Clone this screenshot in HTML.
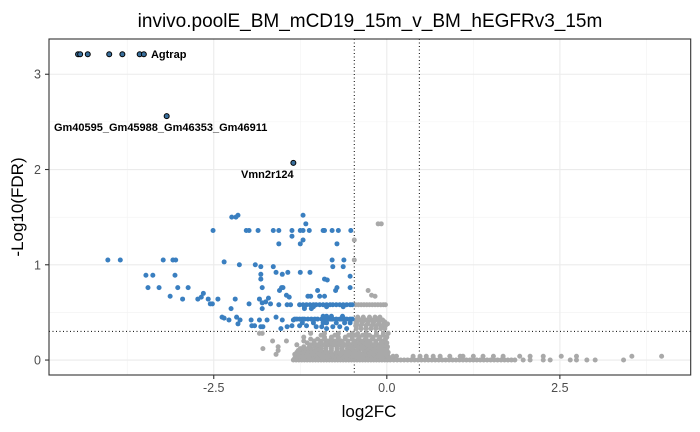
<!DOCTYPE html>
<html><head><meta charset="utf-8"><style>
html,body{margin:0;padding:0;background:#fff;}
svg{display:block;font-family:"Liberation Sans",Arial,sans-serif;}
</style></head><body>
<svg id="chart" width="700" height="432" viewBox="0 0 700 432">
<text x="370" y="27" font-size="19" text-anchor="middle" fill="#000">invivo.poolE_BM_mCD19_15m_v_BM_hEGFRv3_15m</text>
<g id="grid"></g>
<g id="lines"></g>
<g id="pts"></g>
<g id="labels"></g>
<rect x="49" y="39" width="641.7" height="336" fill="none" stroke="#333" stroke-width="1.1"/>
<g id="axes"></g>
<text x="369" y="417" font-size="17" text-anchor="middle">log2FC</text>
<text transform="translate(23,207) rotate(-90)" font-size="17" text-anchor="middle">-Log10(FDR)</text>
</svg>
<script>
const xTicks=[-2.5,0,2.5];
const xTickLabels=["-2.5","0.0","2.5"];
const xMinor=[-3.75,-1.25,1.25,3.75];
const yTicks=[0,1,2,3];
const yTickLabels=["0","1","2","3"];
const yMinor=[0.5,1.5,2.5];
const fcCut=[-0.47,0.47];
const fdrCut=[0.301];

const labeledX=[-4.46,-4.43,-4.32,-4.01,-3.82,-3.57,-3.51,-3.18,-1.35];
const labeledY=[3.21,3.21,3.21,3.21,3.21,3.21,3.21,2.56,2.07];
const geneNames=["Agtrap","Gm40595_Gm45988_Gm46353_Gm46911","Vmn2r124"];
const geneNameX=[-3.45,-3.18,-1.35];
const geneNameY=[3.21,2.56,2.07];

const blueX=[-2.24,-2.18,-2.15,-1.21,-1.17,-2.51,-2.03,-1.99,-1.86,-1.64,-1.56,-1.37,-1.25,-1.21,-1.12,-0.92,-0.90,-0.79,-0.70,-0.52,-1.37,-1.21,-1.25,-1.56,-0.72,
-4.03,-3.85,-3.23,-3.09,-3.05,-2.35,-2.13,-1.90,-1.82,-1.64,-0.79,-0.62,-0.78,-0.63,-3.48,-3.38,-3.06,-1.82,-1.82,-1.60,-1.51,-1.43,-1.25,-1.11,-0.90,-0.86,-0.53,
-3.45,-3.29,-3.02,-2.87,-1.80,-1.55,-1.52,-1.50,-1.00,-0.74,-0.72,-0.53,-3.13,-2.95,-2.73,-2.68,-2.65,-2.58,-2.55,-2.52,-2.44,-2.19,-1.99,-1.84,-1.80,-1.71,-1.75,-1.68,-1.56,-1.45,-1.41,-1.44,-1.39,-1.14,-1.10,-0.97,-0.90,
-2.25,-1.80,-1.19,-1.09,-2.38,-2.35,-2.28,-2.17,-2.12,-2.15,-1.96,-1.84,-1.73,-1.60,-1.51,-1.35,-1.95,-1.91,-1.82,-1.79,-1.53,-1.44,-1.37,-1.26,-1.16,-1.02,-0.94,-0.87,-0.78,-0.68,-0.58,
-1.26,-1.21,-1.16,-1.11,-1.06,-1.02,-0.97,-0.92,-0.87,-0.82,-0.78,-0.73,-0.68,-0.63,-0.58,-0.53,-0.50,-1.19,-1.06,-0.87,-0.63,
-1.33,-1.30,-1.26,-1.22,-1.19,-1.14,-1.09,-1.04,-1.00,-0.94,-0.92,-0.90,-0.87,-0.85,-0.82,-0.80,-0.78,-0.73,-0.68,-0.66,-0.63,-0.61,-0.58,-0.53,-0.50,-0.92,-0.87,-0.80,-0.64,-1.22,-1.06,-0.92,-0.87,-0.73,-0.61,-0.53];
const blueY=[1.50,1.50,1.52,1.52,1.43,1.36,1.36,1.36,1.36,1.36,1.36,1.36,1.36,1.36,1.36,1.36,1.36,1.36,1.36,1.36,1.30,1.26,1.22,1.22,1.22,
1.05,1.05,1.05,1.05,1.05,1.03,1.00,1.00,0.98,0.98,1.05,1.05,0.98,0.98,0.89,0.89,0.89,0.90,0.85,0.92,0.90,0.92,0.92,0.92,0.85,0.84,0.88,
0.76,0.76,0.76,0.76,0.76,0.73,0.76,0.76,0.73,0.73,0.76,0.76,0.67,0.64,0.64,0.66,0.70,0.64,0.59,0.59,0.64,0.64,0.59,0.64,0.60,0.65,0.61,0.59,0.58,0.68,0.66,0.58,0.58,0.67,0.67,0.67,0.67,
0.54,0.54,0.54,0.54,0.45,0.44,0.42,0.45,0.42,0.38,0.42,0.42,0.42,0.45,0.42,0.42,0.36,0.36,0.35,0.35,0.33,0.35,0.36,0.36,0.36,0.35,0.35,0.33,0.35,0.35,0.33,
0.58,0.58,0.58,0.58,0.58,0.58,0.58,0.58,0.58,0.58,0.58,0.58,0.58,0.58,0.58,0.58,0.58,0.56,0.56,0.56,0.56,
0.43,0.43,0.43,0.43,0.43,0.43,0.43,0.43,0.43,0.43,0.43,0.43,0.43,0.43,0.43,0.43,0.43,0.43,0.43,0.43,0.43,0.43,0.43,0.43,0.43,0.46,0.46,0.46,0.46,0.39,0.39,0.39,0.39,0.39,0.39,0.39];

const greyLevels=[0,0.02,0.04,0.06,0.08,0.10,0.12,0.14,0.16,0.18,0.20,0.22,0.24,0.26,0.28,0.33,0.36,0.38,0.40,0.42,0.45,0.58];
const greyXs=[
[-1.35,-1.31,-1.27,-1.23,-1.19,-1.15,-1.11,-1.07,-1.03,-0.99,-0.95,-0.91,-0.87,-0.83,-0.79,-0.75,-0.71,-0.67,-0.63,-0.59,-0.55,-0.51,-0.47,-0.43,-0.39,-0.35,-0.31,-0.27,-0.23,-0.19,-0.15,-0.11,-0.07,-0.03,0.01,0.05,0.1,0.15,0.2,0.25,0.3,0.35,0.4,0.45,0.5,0.55,0.6,0.65,0.7,0.75,0.8,0.85,0.9,0.95,1.0,1.05,1.1,1.15,1.2,1.25,1.3,1.35,1.4,1.45,1.5,1.55,1.6,1.65,1.7,1.75,1.8,1.85,1.97,2.07,2.26,2.36,2.65,2.74,2.89,3.01,3.42],
[-1.33,-1.29,-1.25,-1.21,-1.17,-1.13,-1.09,-1.05,-1.01,-0.97,-0.93,-0.89,-0.85,-0.81,-0.77,-0.73,-0.69,-0.65,-0.61,-0.57,-0.53,-0.49,-0.45,-0.41,-0.37,-0.33,-0.29,-0.25,-0.21,-0.17,-0.13,-0.09,-0.05,-0.01,0.03],
[-1.3,-1.24,-1.18,-1.12,-1.06,-1.0,-0.94,-0.88,-0.82,-0.76,-0.7,-0.64,-0.58,-0.52,-0.46,-0.4,-0.34,-0.28,-0.22,-0.16,-0.1,-0.04,0.02,0.09,0.14,0.38,0.48,0.57,0.67,0.77,0.91,1.06,1.1,1.25,1.39,1.54,1.68,1.92,2.07,2.26,2.52,2.74,3.54,3.97],
[-1.6,-1.33,-1.27,-1.21,-1.15,-1.09,-1.03,-0.97,-0.91,-0.85,-0.79,-0.73,-0.67,-0.61,-0.55,-0.49,-0.43,-0.37,-0.31,-0.25,-0.19,-0.13,-0.07,-0.01],
[-1.3,-1.22,-1.15,-1.08,-1.0,-0.93,-0.86,-0.8,-0.73,-0.66,-0.6,-0.53,-0.46,-0.4,-0.33,-0.26,-0.2,-0.13,-0.06,0.02],
[-1.57,-1.28,-1.2,-1.12,-1.04,-0.96,-0.88,-0.8,-0.72,-0.64,-0.56,-0.48,-0.4,-0.32,-0.24,-0.16,-0.08,0.0],
[-1.79,-1.25,-1.18,-1.1,-1.02,-0.95,-0.88,-0.8,-0.72,-0.65,-0.57,-0.5,-0.42,-0.35,-0.27,-0.2,-0.12,-0.05,0],
[-1.57,-1.2,-1.12,-1.04,-0.96,-0.88,-0.8,-0.72,-0.64,-0.56,-0.48,-0.4,-0.32,-0.24,-0.16,-0.08,0.01],
[-1.3,-1.1,-1.0,-0.92,-0.84,-0.76,-0.68,-0.6,-0.52,-0.44,-0.36,-0.28,-0.2,-0.12,-0.04],
[-1.15,-1.05,-0.96,-0.88,-0.8,-0.72,-0.64,-0.56,-0.48,-0.4,-0.32,-0.24,-0.16,-0.08,0.0],
[-1.65,-1.45,-1.2,-1.05,-0.95,-0.85,-0.75,-0.66,-0.56,-0.46,-0.36,-0.26,-0.16,-0.06],
[-1.1,-1.0,-0.9,-0.8,-0.7,-0.6,-0.5,-0.41,-0.31,-0.21,-0.11,-0.02],
[-1.2,-0.9,-0.8,-0.7,-0.6,-0.5,-0.4,-0.3,-0.2,-0.1,0],
[-0.95,-0.75,-0.55,-0.45,-0.35,-0.25,-0.15,-0.05],
[-1.84,-1.8,-1.1,-0.9,-0.7,-0.5,-0.42,-0.3,-0.15,-0.05,0.02],
[-0.44,-0.37,-0.3,-0.23,-0.16,-0.09,-0.03],
[-0.45,-0.38,-0.3,-0.22,-0.15,-0.08,-0.02],
[-0.44,-0.36,-0.28,-0.2,-0.12,-0.04,0.01],
[-0.43,-0.35,-0.27,-0.19,-0.11,-0.03],
[-0.45,-0.38,-0.3,-0.22,-0.14,-0.06],
[-0.42,-0.34,-0.25,-0.17,-0.1],
[-0.45,-0.41,-0.37,-0.33,-0.29,-0.25,-0.21,-0.17,-0.13,-0.09,-0.05,-0.02]];
const greyExtraX=[-0.47,-0.47,-0.27,-0.22,-0.17,-0.125,-0.08];
const greyExtraY=[1.26,1.05,0.73,0.68,0.67,1.43,1.43];

const NS="http://www.w3.org/2000/svg";
const L=49,R=690.7,T=39,B=375;
const x0=-4.88,x1=4.39,y0=-0.157,y1=3.37;
function sx(v){return L+(v-x0)/(x1-x0)*(R-L);}
function sy(v){return B-(v-y0)/(y1-y0)*(B-T);}
function mk(tag,attrs,parent){const e=document.createElementNS(NS,tag);for(const k in attrs)e.setAttribute(k,attrs[k]);parent.appendChild(e);return e;}
const grid=document.getElementById('grid'),lines=document.getElementById('lines'),pts=document.getElementById('pts'),labels=document.getElementById('labels'),axes=document.getElementById('axes');
mk('rect',{x:L,y:T,width:R-L,height:B-T,fill:'#fff'},grid);
xMinor.forEach(v=>{const e=mk('line',{x1:sx(v),x2:sx(v),y1:T,y2:B,stroke:'#f2f2f2','stroke-width':0.6},grid);

});
yMinor.forEach(v=>{const e=mk('line',{x1:L,x2:R,y1:sy(v),y2:sy(v),stroke:'#f2f2f2','stroke-width':0.6},grid);

});
xTicks.forEach((v,i)=>{const e=mk('line',{x1:sx(v),x2:sx(v),y1:T,y2:B,stroke:'#ebebeb','stroke-width':1.1},grid);


const t=mk('line',{x1:sx(v),x2:sx(v),y1:B,y2:B+4,stroke:'#333','stroke-width':1.1},axes);


const l=mk('text',{x:sx(v),y:B+17,'font-size':12.5,fill:'#4d4d4d','text-anchor':'middle'},axes);l.textContent=xTickLabels[i];

});
yTicks.forEach((v,i)=>{const e=mk('line',{x1:L,x2:R,y1:sy(v),y2:sy(v),stroke:'#ebebeb','stroke-width':1.1},grid);


const t=mk('line',{x1:L-4,x2:L,y1:sy(v),y2:sy(v),stroke:'#333','stroke-width':1.1},axes);


const l=mk('text',{x:L-8,y:sy(v)+4.5,'font-size':12.5,fill:'#4d4d4d','text-anchor':'end'},axes);l.textContent=yTickLabels[i];

});
function dot(x,y,fill,stroke,name){const c=mk('circle',{cx:sx(x),cy:sy(y),r:2.5,fill:fill},pts);
if(stroke){c.setAttribute('stroke',stroke);c.setAttribute('stroke-width',1);}

}
greyLevels.forEach((lv,i)=>greyXs[i].forEach(x=>dot(x,lv,'#a9a9a9',null,'nonsig-point')));
greyExtraX.forEach((x,i)=>dot(x,greyExtraY[i],'#a9a9a9',null,'nonsig-point'));
blueX.forEach((x,i)=>dot(x,blueY[i],'#3a7fc0',null,'sig-point'));
labeledX.forEach((x,i)=>dot(x,labeledY[i],'#3a6f9c','#000','labeled-point'));
fcCut.forEach(v=>{const e=mk('line',{x1:sx(v),x2:sx(v),y1:T,y2:B,stroke:'#000','stroke-width':1,'stroke-dasharray':'1,2.5'},lines);

});
fdrCut.forEach(v=>{const e=mk('line',{x1:L,x2:R,y1:sy(v),y2:sy(v),stroke:'#000','stroke-width':1,'stroke-dasharray':'1,2.5'},lines);

});
const anchors=['start','middle','middle'],dys=[4,15,15],dxs=[3,-6,-26];
geneNames.forEach((g,i)=>{const t=mk('text',{x:sx(geneNameX[i])+dxs[i],y:sy(geneNameY[i])+dys[i],'font-size':11,'font-weight':'bold','text-anchor':anchors[i]},labels);t.textContent=g;

});
</script>
</body></html>
